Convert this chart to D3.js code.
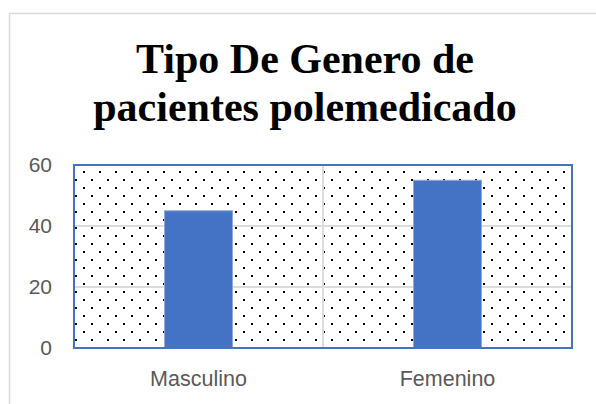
<!DOCTYPE html>
<html><head><meta charset="utf-8">
<script src="https://cdn.jsdelivr.net/npm/d3@7"></script>
<style>html,body{margin:0;padding:0;background:#fff;}svg{display:block;}</style>
</head><body>
<script>
const categories = ["Masculino", "Femenino"];
const values = [45, 55];
const yTicks = [0, 20, 40, 60];
const titleLines = ["Tipo De Genero de", "pacientes polemedicado"];

const W = 596, H = 404;
const svg = d3.select("body").append("svg").attr("width", W).attr("height", H);

// outer chart frame
svg.append("rect").attr("x", 9.5).attr("y", 13.5).attr("width", 620).attr("height", 420)
  .attr("fill", "#fff").attr("stroke", "#d9d9d9").attr("stroke-width", 1.5);

const plot = {left: 74, right: 572, top: 165, bottom: 348};
const x = d3.scaleBand().domain(categories).range([plot.left, plot.right]).padding(0);
const y = d3.scaleLinear().domain([0, 60]).range([plot.bottom, plot.top]);

// pattern
const defs = svg.append("defs");
const pat = defs.append("pattern").attr("id", "dots").attr("patternUnits", "userSpaceOnUse")
  .attr("width", 16).attr("height", 16);
pat.append("rect").attr("width", 16).attr("height", 16).attr("fill", "#fff");
pat.append("rect").attr("x", 3).attr("y", 11).attr("width", 2).attr("height", 2).attr("fill", "#000");
pat.append("rect").attr("x", 11).attr("y", 3).attr("width", 2).attr("height", 2).attr("fill", "#000");

svg.append("rect").attr("x", plot.left).attr("y", plot.top)
  .attr("width", plot.right - plot.left).attr("height", plot.bottom - plot.top)
  .attr("fill", "url(#dots)");

// gridlines
svg.append("g").selectAll("line").data(yTicks.filter(d => d > 0 && d < 60)).join("line")
  .attr("x1", plot.left).attr("x2", plot.right)
  .attr("y1", d => y(d)).attr("y2", d => y(d))
  .attr("stroke", "#dcdcdc").attr("stroke-width", 2);
// vertical category separator
svg.append("line").attr("x1", x(categories[1])).attr("x2", x(categories[1]))
  .attr("y1", plot.top).attr("y2", plot.bottom)
  .attr("stroke", "#dcdcdc").attr("stroke-width", 2);

// bars
const barW = x.bandwidth() * 0.273;
svg.append("g").selectAll("rect").data(values).join("rect")
  .attr("x", (d, i) => x(categories[i]) + x.bandwidth() / 2 - barW / 2)
  .attr("y", d => y(d)).attr("width", barW).attr("height", d => y(0) - y(d))
  .attr("fill", "#4472c4").attr("stroke", "#8faadc").attr("stroke-width", 1);

// bottom axis line
svg.append("line").attr("x1", plot.left).attr("x2", plot.right)
  .attr("y1", plot.bottom).attr("y2", plot.bottom)
  .attr("stroke", "#bfc6d6").attr("stroke-width", 2);

// plot border
svg.append("rect").attr("x", plot.left).attr("y", plot.top)
  .attr("width", plot.right - plot.left).attr("height", plot.bottom - plot.top)
  .attr("fill", "none").attr("stroke", "#4472c4").attr("stroke-width", 2);

// y axis labels
const yAxis = d3.axisLeft(y).tickValues(yTicks).tickSize(0).tickPadding(22);
const gy = svg.append("g").attr("transform", `translate(${plot.left},0)`).call(yAxis);
gy.select(".domain").remove();
gy.selectAll("text").attr("font-family", "Liberation Sans, Arial, sans-serif")
  .attr("font-size", 21).attr("fill", "#595959");

// x axis labels
const xAxis = d3.axisBottom(x).tickSize(0).tickPadding(23);
const gx = svg.append("g").attr("transform", `translate(0,${plot.bottom})`).call(xAxis);
gx.select(".domain").remove();
gx.selectAll("text").attr("font-family", "Liberation Sans, Arial, sans-serif")
  .attr("font-size", 21.5).attr("fill", "#595959");

// title
svg.append("text").attr("x", 305).attr("y", 73).attr("text-anchor", "middle")
  .attr("font-family", "Liberation Serif, Times New Roman, serif").attr("font-weight", "bold")
  .attr("font-size", 42).attr("fill", "#000")
  .selectAll("tspan").data(titleLines).join("tspan")
  .attr("x", 305).attr("dy", (d, i) => i === 0 ? 0 : 48).text(d => d);
</script>
</body></html>
